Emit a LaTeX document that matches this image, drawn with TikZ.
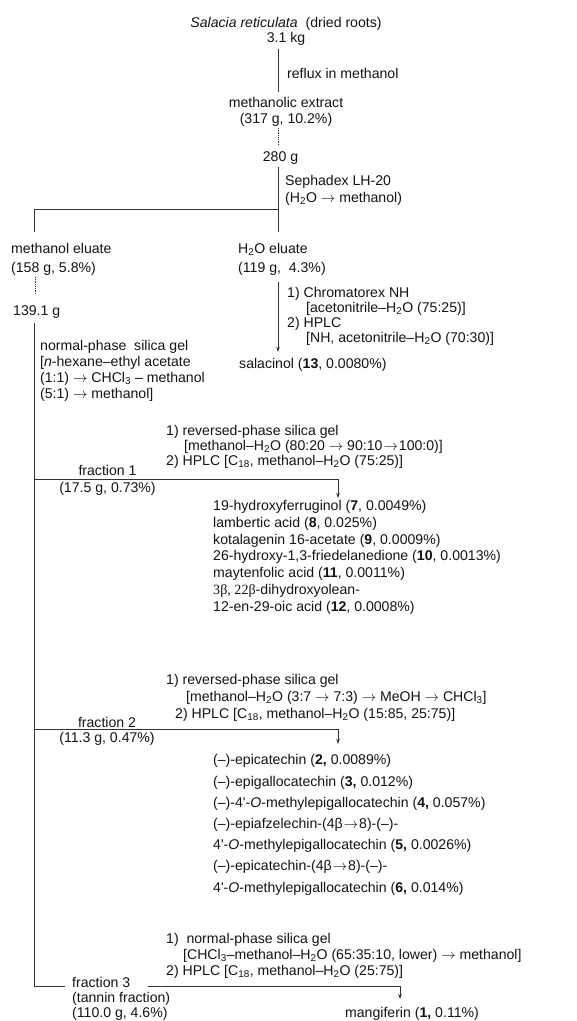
\documentclass[tikz,border=0pt]{standalone}
\usepackage{fontspec}
\setmainfont{Liberation Sans}
\newfontfamily\grk{Liberation Serif}
\usetikzlibrary{arrows.meta}
\tikzset{
  t/.style={inner sep=0pt, text=black!92},
  tl/.style={t, align=left, anchor=base west},
  tc/.style={t, align=center, anchor=base},
  fs/.style={font=\fontsize{14.1}{#1}\selectfont},
  ln/.style={line width=0.8pt, draw=black!80},
  ar/.style={ln, -{Stealth[length=5pt,width=3.5pt]}},
  dt/.style={ln, densely dotted},
}
\newcommand{\sub}[1]{\textsubscript{#1}}
\newcommand{\ra}{\(\rightarrow\)}
\newcommand{\rat}{\kern1pt\(\rightarrow\)\kern1pt}
\begin{document}
\begin{tikzpicture}[x=1pt,y=-1pt]
\useasboundingbox[fill=white] (0,0) rectangle (577,1021);
% texts (base anchor = baseline of last line)
\node[tc, fs=15] (src) at (286,42) {\textit{Salacia reticulata}\ \ (dried roots)\\3.1 kg};
\node[tl, fs=16] (reflux) at (287,78) {reflux in methanol};
\node[tc, fs=16] (ext) at (286,123) {methanolic extract\\(317 g, 10.2\%)};
\node[tc, fs=16] (w280) at (280.5,161) {280 g};
\node[tl, fs=17] (seph) at (285,202) {Sephadex LH-20\\(H\sub{2}O \ra{} methanol)};
\node[tl, fs=19] (meel) at (11,272) {methanol eluate\\(158 g, 5.8\%)};
\node[tl, fs=19] (wel) at (238,272) {H\sub{2}O eluate\\(119 g,\ \ 4.3\%)};
\node[tl, fs=16] (w139) at (13,315) {139.1 g};
\node[tl, fs=15] (chrom) at (287,342) {1) Chromatorex NH\\\hspace*{19pt}[acetonitrile–H\sub{2}O (75:25)]\\2) HPLC\\\hspace*{19pt}[NH, acetonitrile–H\sub{2}O (70:30)]};
\node[tl, fs=16] (salac) at (239,368) {salacinol (\textbf{13}, 0.0080\%)};
\node[tl, fs=15.7] (np) at (40,398) {normal-phase\ \ silica gel\\{}[\textit{n}-hexane–ethyl acetate\\(1:1) \ra{} CHCl\sub{3} – methanol\\(5:1) \ra{} methanol]};
\node[tl, fs=15] (rp1) at (166,465) {1) reversed-phase silica gel\\\hspace*{18pt}[methanol–H\sub{2}O (80:20 \ra{} 90:10\rat{}100:0)]\\2) HPLC [C\sub{18}, methanol–H\sub{2}O (75:25)]};
\node[tc, fs=17] (fr1) at (107.5,492) {fraction 1\\(17.5 g, 0.73\%)};
\node[tl, fs=16.67] (list1) at (213,611) {19-hydroxyferruginol (\textbf{7}, 0.0049\%)\\lambertic acid (\textbf{8}, 0.025\%)\\kotalagenin 16-acetate (\textbf{9}, 0.0009\%)\\26-hydroxy-1,3-friedelanedione (\textbf{10}, 0.0013\%)\\maytenfolic acid (\textbf{11}, 0.0011\%)\\{\grk 3β, 22β}-dihydroxyolean-\\12-en-29-oic acid (\textbf{12}, 0.0008\%)};
\node[tl, fs=17] (rp2) at (166,718) {1) reversed-phase silica gel\\\hspace*{20pt}[methanol–H\sub{2}O (3:7 \ra{} 7:3) \ra{} MeOH \ra{} CHCl\sub{3}]\\\hspace*{9pt}2) HPLC [C\sub{18}, methanol–H\sub{2}O (15:85, 25:75)]};
\node[tc, fs=15] (fr2) at (107,742) {fraction 2\\(11.3 g, 0.47\%)};
\node[tl, fs=21.2] (list2) at (213,892) {(–)-epicatechin (\textbf{2,} 0.0089\%)\\(–)-epigallocatechin (\textbf{3,} 0.012\%)\\(–)-4\textquotesingle-\textit{O}-methylepigallocatechin (\textbf{4,} 0.057\%)\\(–)-epiafzelechin-(4β\rat{}8)-(–)-\\4\textquotesingle-\textit{O}-methylepigallocatechin (\textbf{5,} 0.0026\%)\\(–)-epicatechin-(4β\rat{}8)-(–)-\\4\textquotesingle-\textit{O}-methylepigallocatechin (\textbf{6,} 0.014\%)};
\node[tl, fs=16] (np3) at (166,975) {1)\ \ normal-phase silica gel\\\hspace*{17pt}[CHCl\sub{3}–methanol–H\sub{2}O (65:35:10, lower) \ra{} methanol]\\2) HPLC [C\sub{18}, methanol–H\sub{2}O (25:75)]};
\node[tl, fs=15] (fr3) at (72,1017) {fraction 3\\(tannin fraction)\\(110.0 g, 4.6\%)};
\node[tc, fs=16] (mang) at (412,1017) {mangiferin (\textbf{1,} 0.11\%)};
% connector points
\coordinate (a1) at (278,49);
\coordinate (a2) at (278,92);
\coordinate (d1) at (278,128);
\coordinate (d2) at (278,145);
\coordinate (b1) at (278,167);
\coordinate (b2) at (278,232);
\coordinate (bj) at (278,209);
\coordinate (bl) at (34,209);
\coordinate (bl2) at (34,232);
\coordinate (e1) at (35,277);
\coordinate (e2) at (35,295);
\coordinate (h1) at (278,282);
\coordinate (h2) at (278,352);
\coordinate (m1) at (34,323);
\coordinate (m2) at (34,986);
\coordinate (f1a) at (34,479);
\coordinate (f1b) at (338,479);
\coordinate (f1c) at (338,498);
\coordinate (f2a) at (34,729);
\coordinate (f2b) at (338,729);
\coordinate (f2c) at (338,744);
\coordinate (f3a) at (65,986);
\coordinate (f3b) at (148,986);
\coordinate (f3c) at (400,986);
\coordinate (f3d) at (400,999);
% connectors
\draw[ln] (a1) -- (a2);
\draw[dt] (d1) -- (d2);
\draw[ln] (b1) -- (b2);
\draw[ln] (bj) -- (bl) -- (bl2);
\draw[dt] (e1) -- (e2);
\draw[ar] (h1) -- (h2);
\draw[ln] (m1) -- (m2) -- (f3a);
\draw[ar] (f1a) -- (f1b) -- (f1c);
\draw[ar] (f2a) -- (f2b) -- (f2c);
\draw[ar] (f3b) -- (f3c) -- (f3d);
\end{tikzpicture}
\end{document}
